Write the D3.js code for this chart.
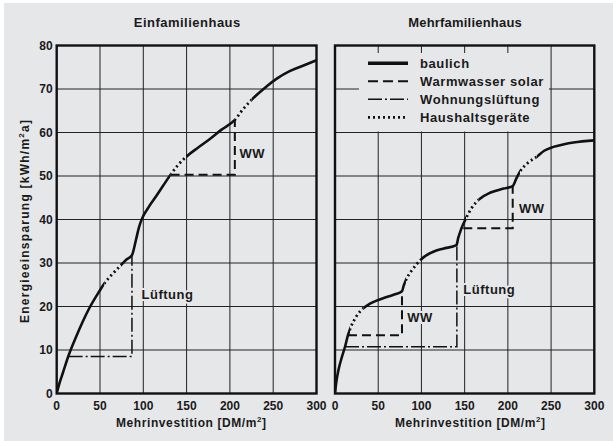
<!DOCTYPE html>
<html>
<head>
<meta charset="utf-8">
<script src="https://cdn.jsdelivr.net/npm/d3@7"></script>
<style>
  body { margin: 0; background: #fff; }
  text { font-family: "Liberation Sans", Arial, sans-serif; font-weight: bold; fill: #1a1a1a; }
</style>
</head>
<body>
<div id="chart"></div>
<script>
// data
const xTicks = [0, 50, 100, 150, 200, 250, 300];
const yTicks = [0, 10, 20, 30, 40, 50, 60, 70, 80];

// Einfamilienhaus: curve pieces in order, [Mehrinvestition, Einsparung]
const efhBaulich1 = [[0,0],[3.4,2.5],[6.9,4.6],[13.8,8.8],[22.3,13],[30,16.5],[37.6,19.6],[49.2,23.5],[55,25.3]];
const efhHaushalt1 = [[55,25.3],[65,27.6],[74.2,29.5]];
const efhBaulich2 = [[74.2,29.5],[80,30.7],[86.9,31.8],[91.5,35.3],[95,38.2],[98.5,40.2],[106,42.8],[115,45.4],[123,47.8],[131.5,50.3]];
const efhHaushalt2 = [[131.5,50.3],[140,52.5],[150,54.5]];
const efhBaulich3 = [[150,54.5],[163,56.5],[176.9,58.5],[190,60.6],[205.7,62.9]];
const efhHaushalt3 = [[205.7,62.9],[215,65.3],[225,67.5]];
const efhBaulich4 = [[225,67.5],[242.3,70.6],[255,72.5],[269,74.1],[285,75.4],[300,76.6]];
const efhLueftung = [[13.8,8.5],[86.9,8.5],[86.9,31.8]];
const efhWW = [[131.5,50.3],[205.7,50.3],[205.7,62.9]];

// Mehrfamilienhaus
const mfhBaulich1 = [[0,0],[1.5,2.6],[4,5.4],[8,8.4],[11.6,10.75],[15,13.4],[17.4,14.8]];
const mfhHaushalt1 = [[17.4,14.8],[24,17.5],[32.8,19.6]];
const mfhBaulich2 = [[32.8,19.6],[40,20.6],[50.2,21.5],[60,22.2],[69.4,22.8],[77.5,23.5],[79.5,24.8],[82.1,26.1]];
const mfhHaushalt2 = [[82.1,26.1],[90,28.6],[99.5,30.8]];
const mfhBaulich3 = [[99.5,30.8],[106,31.8],[113.8,32.6],[125,33.3],[140.5,34.1],[142.5,35.7],[146,37.8],[151.6,40.3]];
const mfhHaushalt3 = [[151.6,40.3],[158,42.6],[166,44.5]];
const mfhBaulich4 = [[166,44.5],[180,46.2],[195,47.1],[205.6,47.7],[210,49.5],[214,51]];
const mfhHaushalt4 = [[214,51],[223,53],[233.3,54.4]];
const mfhBaulich5 = [[233.3,54.4],[242,55.8],[252.6,56.7],[265,57.3],[275.8,57.7],[300,58.2]];
const mfhLueftung = [[11.6,10.75],[141,10.75],[141,34.1]];
const mfhWW1 = [[15,13.4],[77.5,13.4],[77.5,23.5]];
const mfhWW2 = [[148.4,38],[205.6,38],[205.6,47.7]];

const legendNames = ["baulich", "Warmwasser solar", "Wohnungslüftung", "Haushaltsgeräte"];
const legendStyles = ["solid", "dash", "dashdot", "dot"];

// Env params
const W = 613, H = 441;
const bg = "#e6e7e9";
const plotTop = 45.5, plotBottom = 393.5;

// line styles
const styles = {
  solid:   { width: 2.6, dash: null },
  dash:    { width: 2, dash: "9,5" },
  dashdot: { width: 1.5, dash: "14,3,2,3" },
  dot:     { width: 2.8, dash: "2,3" }
};

var svg = d3.select("#chart").append("svg")
  .attr("width", W)
  .attr("height", H);

svg.append("rect").attr("width", W).attr("height", H).attr("fill", "#fff");
svg.append("rect").attr("x", 4).attr("y", 3).attr("width", W - 4).attr("height", H - 3).attr("fill", bg);

var y = d3.scaleLinear().domain([0, 80]).range([plotBottom, plotTop]);
var clipId = 0;

function drawPanel(x0, x1, title, titleX, xTitleX, yLabels) {
  var x = d3.scaleLinear().domain([0, 300]).range([x0, x1]);
  var g = svg.append("g");

  // grid
  g.selectAll(".vgrid").data(xTicks.slice(1, -1)).enter().append("line")
    .attr("x1", d => x(d)).attr("x2", d => x(d))
    .attr("y1", plotTop).attr("y2", plotBottom)
    .attr("stroke", "#222").attr("stroke-width", 1);
  g.selectAll(".hgrid").data(yTicks.slice(1, -1)).enter().append("line")
    .attr("x1", x0).attr("x2", x1)
    .attr("y1", d => y(d)).attr("y2", d => y(d))
    .attr("stroke", "#222").attr("stroke-width", 1);

  // x tick labels
  g.selectAll(".xt").data(xTicks).enter().append("text")
    .attr("x", d => x(d)).attr("y", 409.5)
    .attr("text-anchor", "middle")
    .style("font-size", "12px")
    .text(d => d);

  if (yLabels) {
    g.selectAll(".yt").data(yTicks).enter().append("text")
      .attr("x", x0 - 4).attr("y", d => y(d) + 4.3)
      .attr("text-anchor", "end")
      .style("font-size", "12px")
      .text(d => d);
  }

  // titles
  svg.append("text").attr("x", titleX).attr("y", 27)
    .attr("text-anchor", "middle").style("font-size", "13px")
    .attr("textLength", title.length * 7.1).attr("lengthAdjust", "spacing")
    .text(title);

  var xt = svg.append("text").attr("x", xTitleX).attr("y", 427)
    .attr("text-anchor", "middle").style("font-size", "12px")
    .attr("textLength", 150).attr("lengthAdjust", "spacing");
  xt.append("tspan").text("Mehrinvestition [DM/m");
  xt.append("tspan").attr("dy", -5).style("font-size", "8px").text("2");
  xt.append("tspan").attr("dy", 5).text("]");

  return { x: x, g: g, x0: x0, x1: x1 };
}

function drawLine(panel, pts, style) {
  panel.g.append("path")
    .datum(pts)
    .attr("d", d3.line().x(d => panel.x(d[0])).y(d => y(d[1])))
    .attr("fill", "none")
    .attr("stroke", "#111")
    .attr("stroke-width", styles[style].width)
    .attr("stroke-dasharray", styles[style].dash);
}

// one smooth curve through all pieces, each piece drawn in its own style through a clip
function drawCurve(panel, pieces) {
  var all = [];
  pieces.forEach(p => p.pts.forEach((d, i) => { if (i > 0 || all.length === 0) all.push(d); }));
  var line = d3.line().x(d => panel.x(d[0])).y(d => y(d[1])).curve(d3.curveMonotoneX);
  pieces.forEach(p => {
    var id = "clip" + (clipId++);
    var xa = panel.x(p.pts[0][0]), xb = panel.x(p.pts[p.pts.length - 1][0]);
    svg.append("clipPath").attr("id", id).append("rect")
      .attr("x", xa).attr("y", 0).attr("width", xb - xa).attr("height", H);
    panel.g.append("path")
      .datum(all)
      .attr("d", line)
      .attr("clip-path", `url(#${id})`)
      .attr("fill", "none")
      .attr("stroke", "#111")
      .attr("stroke-width", styles[p.style].width)
      .attr("stroke-dasharray", styles[p.style].dash);
  });
}

function label(panel, txt, vx, vy) {
  panel.g.append("text")
    .attr("x", panel.x(vx)).attr("y", y(vy))
    .style("font-size", "13px")
    .attr("stroke", bg).attr("stroke-width", 4)
    .attr("paint-order", "stroke")
    .attr("letter-spacing", "0.5px")
    .text(txt);
}

function frame(panel) {
  panel.g.append("rect")
    .attr("x", panel.x0).attr("y", plotTop)
    .attr("width", panel.x1 - panel.x0).attr("height", plotBottom - plotTop)
    .attr("fill", "none").attr("stroke", "#111").attr("stroke-width", 2.4);
}

// left panel
var left = drawPanel(56.7, 316.5, "Einfamilienhaus", 187, 191, true);
drawLine(left, efhLueftung, "dashdot");
drawLine(left, efhWW, "dash");
drawCurve(left, [
  { pts: efhBaulich1, style: "solid" }, { pts: efhHaushalt1, style: "dot" },
  { pts: efhBaulich2, style: "solid" }, { pts: efhHaushalt2, style: "dot" },
  { pts: efhBaulich3, style: "solid" }, { pts: efhHaushalt3, style: "dot" },
  { pts: efhBaulich4, style: "solid" }
]);
label(left, "Lüftung", 98, 21.8);
label(left, "WW", 211, 54.2);
frame(left);

// right panel
var right = drawPanel(335, 594.3, "Mehrfamilienhaus", 465, 470, false);

// legend box
right.g.append("rect")
  .attr("x", 359).attr("y", 53).attr("width", 190).attr("height", y(60) - 53 - 1)
  .attr("fill", bg);
var leg = right.g.selectAll(".leg").data(legendNames).enter().append("g")
  .attr("transform", (d, i) => `translate(368, ${63.3 + i * 18})`);
leg.append("line")
  .attr("x1", 0).attr("x2", 40).attr("y1", 0).attr("y2", 0)
  .attr("stroke", "#111")
  .attr("stroke-width", (d, i) => legendStyles[i] === "solid" ? 3.4 : styles[legendStyles[i]].width)
  .attr("stroke-dasharray", (d, i) => legendStyles[i] === "dash" ? "10,5" : styles[legendStyles[i]].dash);
leg.append("text")
  .attr("x", 52).attr("y", 5)
  .style("font-size", "13px")
  .attr("letter-spacing", "0.6px")
  .text(d => d);

drawLine(right, mfhLueftung, "dashdot");
drawLine(right, mfhWW1, "dash");
drawLine(right, mfhWW2, "dash");
drawCurve(right, [
  { pts: mfhBaulich1, style: "solid" }, { pts: mfhHaushalt1, style: "dot" },
  { pts: mfhBaulich2, style: "solid" }, { pts: mfhHaushalt2, style: "dot" },
  { pts: mfhBaulich3, style: "solid" }, { pts: mfhHaushalt3, style: "dot" },
  { pts: mfhBaulich4, style: "solid" }, { pts: mfhHaushalt4, style: "dot" },
  { pts: mfhBaulich5, style: "solid" }
]);
label(right, "WW", 83.5, 16.5);
label(right, "Lüftung", 148.5, 22.9);
label(right, "WW", 213, 41.5);
frame(right);

// y axis title
var yt = svg.append("text")
  .attr("transform", `translate(29, ${(plotTop + plotBottom) / 2 + 2}) rotate(-90)`)
  .attr("text-anchor", "middle").style("font-size", "12px")
  .attr("textLength", 203).attr("lengthAdjust", "spacing");
yt.append("tspan").text("Energieeinsparung [kWh/m");
yt.append("tspan").attr("dy", -5).style("font-size", "8px").text("2");
yt.append("tspan").attr("dy", 5).text("a]");
</script>
</body>
</html>
